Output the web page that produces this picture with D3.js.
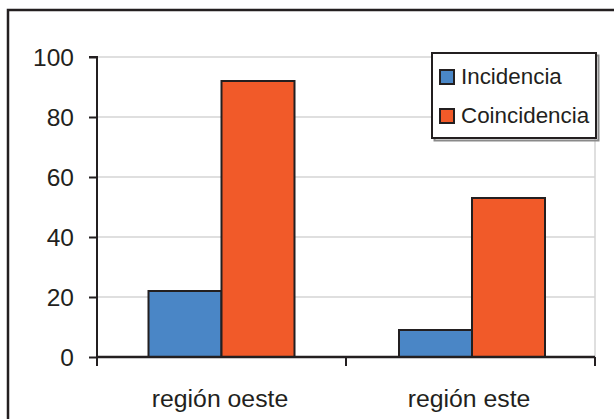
<!DOCTYPE html>
<html>
<head>
<meta charset="utf-8">
<script src="https://cdn.jsdelivr.net/npm/d3@7"></script>
<style>
  html, body { margin: 0; padding: 0; background: #fff; }
  svg { display: block; }
  text { font-family: "Liberation Sans", Arial, sans-serif; fill: #231f20; }
</style>
</head>
<body>
<svg id="chart" width="614" height="419"></svg>
<script>
// Chart data
const categories = ["región oeste", "región este"];
const seriesNames = ["Incidencia", "Coincidencia"];
const incidencia = [22, 9];
const coincidencia = [92, 53];
const yTicks = [0, 20, 40, 60, 80, 100];
const colors = ["#4a86c6", "#f15a29"];

const table = categories.map((c, i) => ({
  category: c,
  values: [incidencia[i], coincidencia[i]]
}));

const svg = d3.select("#chart");
const margin = { left: 97, top: 57, right: 595, bottom: 357 };
const ink = "#231f20";

// Outer frame (runs past the right and bottom edges)
svg.append("rect")
  .attr("x", 8).attr("y", 10)
  .attr("width", 640).attr("height", 440)
  .attr("fill", "none").attr("stroke", ink).attr("stroke-width", 2.5);

const x0 = d3.scaleBand().domain(categories).range([margin.left, margin.right]).paddingInner(0).paddingOuter(0);
const y = d3.scaleLinear().domain([0, 100]).range([margin.bottom, margin.top]);
const groupWidth = 146;
const x1 = d3.scaleBand().domain(seriesNames).range([0, groupWidth]);

// Gridlines
svg.append("g")
  .selectAll("line")
  .data(yTicks.filter(t => t > 0))
  .join("line")
  .attr("x1", margin.left).attr("x2", margin.right)
  .attr("y1", d => y(d)).attr("y2", d => y(d))
  .attr("stroke", "#d4d4d4").attr("stroke-width", 1.5);

// Right plot border
svg.append("line")
  .attr("x1", margin.right).attr("x2", margin.right)
  .attr("y1", y(100)).attr("y2", y(0))
  .attr("stroke", "#d4d4d4").attr("stroke-width", 1.5);

// Bars
const groups = svg.append("g")
  .selectAll("g")
  .data(table)
  .join("g")
  .attr("transform", (d, i) => `translate(${x0(d.category) + (x0.bandwidth() - groupWidth) / 2 + i * 1.5},0)`);

groups.selectAll("rect")
  .data(d => d.values.map((v, j) => ({ name: seriesNames[j], value: v, j })))
  .join("rect")
  .attr("x", d => x1(d.name))
  .attr("width", x1.bandwidth())
  .attr("y", d => y(d.value))
  .attr("height", d => y(0) - y(d.value))
  .attr("fill", d => colors[d.j])
  .attr("stroke", ink).attr("stroke-width", 2);

// Y axis
const yAxis = d3.axisLeft(y).tickValues(yTicks).tickSize(8).tickPadding(15).tickFormat(d3.format("d"));
const gy = svg.append("g").attr("transform", `translate(${margin.left},0)`).call(yAxis);
gy.select(".domain").attr("stroke", ink).attr("stroke-width", 2).attr("d", `M-8,${y(100)}H0V${y(0) + 9}`);
gy.selectAll(".tick line").attr("stroke", ink).attr("stroke-width", 2);
gy.selectAll(".tick text")
  .attr("font-size", 24.5).attr("fill", ink)
  .style("font-family", "'Liberation Sans', Arial, sans-serif")
  .attr("dy", "0.36em");

// X axis
const gx = svg.append("g").attr("transform", `translate(0,${margin.bottom})`);
gx.append("line")
  .attr("x1", margin.left).attr("x2", margin.right)
  .attr("y1", 0).attr("y2", 0)
  .attr("stroke", ink).attr("stroke-width", 2.5);
const boundaries = [margin.left, ...categories.map(c => x0(c) + x0.bandwidth())];
gx.selectAll("line.tick")
  .data(boundaries)
  .join("line")
  .attr("class", "tick")
  .attr("x1", d => d).attr("x2", d => d)
  .attr("y1", 0).attr("y2", 9)
  .attr("stroke", ink).attr("stroke-width", 2);
gx.selectAll("text")
  .data(categories)
  .join("text")
  .attr("x", d => x0(d) + x0.bandwidth() / 2 - 1.5)
  .attr("y", 50)
  .attr("text-anchor", "middle")
  .attr("font-size", 24.8)
  .text(d => d);

// Legend with drop shadow
const legend = svg.append("g").attr("transform", "translate(432,53)");
legend.append("rect")
  .attr("x", 2.5).attr("y", 2.5).attr("width", 164).attr("height", 85)
  .attr("fill", "none").attr("stroke", "#8a8a8a").attr("stroke-width", 2);
legend.append("rect")
  .attr("x", 0).attr("y", 0).attr("width", 164).attr("height", 85)
  .attr("fill", "#fff").attr("stroke", ink).attr("stroke-width", 2);
const items = legend.selectAll("g.item")
  .data(seriesNames)
  .join("g")
  .attr("class", "item")
  .attr("transform", (d, i) => `translate(0,${17 + i * 39})`);
items.append("rect")
  .attr("x", 8).attr("y", 0).attr("width", 14).attr("height", 14)
  .attr("fill", (d, i) => colors[i])
  .attr("stroke", ink).attr("stroke-width", 2);
items.append("text")
  .attr("x", 29).attr("y", 14)
  .attr("font-size", 22.4)
  .text(d => d);
</script>
</body>
</html>
